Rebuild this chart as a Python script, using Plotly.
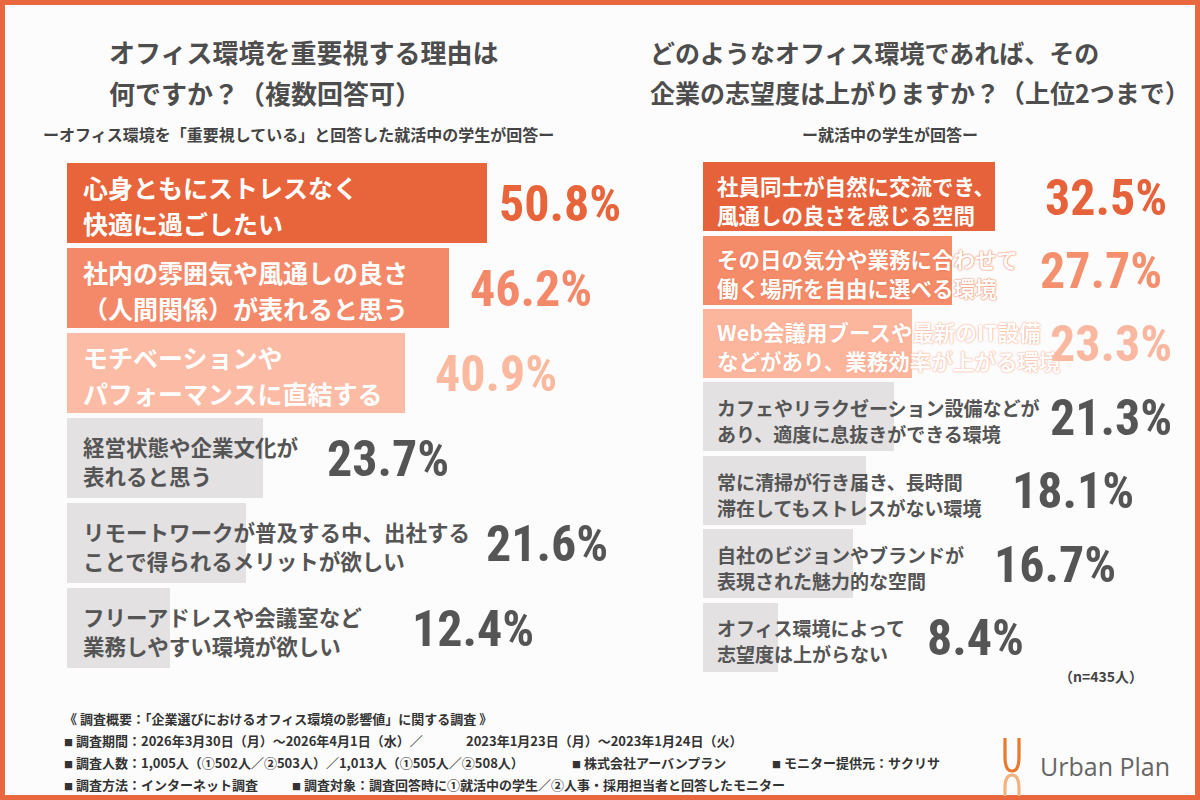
import plotly.graph_objects as go

# ---------------- data ----------------
left_labels = [
    "心身ともにストレスなく\n快適に過ごしたい",
    "社内の雰囲気や風通しの良さ\n（人間関係）が表れると思う",
    "モチベーションや\nパフォーマンスに直結する",
    "経営状態や企業文化が\n表れると思う",
    "リモートワークが普及する中、出社する\nことで得られるメリットが欲しい",
    "フリーアドレスや会議室など\n業務しやすい環境が欲しい",
]
left_values = [50.8, 46.2, 40.9, 23.7, 21.6, 12.4]

right_labels = [
    "社員同士が自然に交流でき、\n風通しの良さを感じる空間",
    "その日の気分や業務に合わせて\n働く場所を自由に選べる環境",
    "Web会議用ブースや最新のIT設備\nなどがあり、業務効率が上がる環境",
    "カフェやリラクゼーション設備などが\nあり、適度に息抜きができる環境",
    "常に清掃が行き届き、長時間\n滞在してもストレスがない環境",
    "自社のビジョンやブランドが\n表現された魅力的な空間",
    "オフィス環境によって\n志望度は上がらない",
]
right_values = [32.5, 27.7, 23.3, 21.3, 18.1, 16.7, 8.4]

left_title = ["オフィス環境を重要視する理由は", "何ですか？（複数回答可）"]
left_sub = "ーオフィス環境を「重要視している」と回答した就活中の学生が回答ー"
right_title = ["どのようなオフィス環境であれば、その", "企業の志望度は上がりますか？（上位2つまで）"]
right_sub = "ー就活中の学生が回答ー"
n_note = "（n=435人）"

SQ = "<span style='font-size:9px'>■</span> "
footer_lines = [
    [(62, "《 調査概要：「企業選びにおけるオフィス環境の影響値」に関する調査 》")],
    [(62, SQ + "調査期間：2026年3月30日（月）～2026年4月1日（水）／"),
     (464, "2023年1月23日（月）～2023年1月24日（火）")],
    [(62, SQ + "調査人数：1,005人（①502人／②503人）／1,013人（①505人／②508人）"),
     (570, SQ + "株式会社アーバンプラン"),
     (770, SQ + "モニター提供元：サクリサ")],
    [(62, SQ + "調査方法：インターネット調査"),
     (290, SQ + "調査対象：調査回答時に①就活中の学生／②人事・採用担当者と回答したモニター")],
]

# ---------------- styles ----------------
W, H = 1200, 800
ORANGE = "#E8673F"
GREY_BAR = "#E3E1E2"
GREY_TXT = "#555555"
JP = "Noto Sans CJK JP"
NUM = "Roboto Condensed, Roboto, sans-serif"
NUM_SIZE = 50

left_bar_colors = ["#E8643A", "#F4896A", "#FCBBA4", GREY_BAR, GREY_BAR, GREY_BAR]
left_val_colors = ["#E8643A", "#F4896A", "#FBB9A0", GREY_TXT, GREY_TXT, GREY_TXT]
right_bar_colors = ["#E5623A", "#F48C69", "#FCB69D", GREY_BAR, GREY_BAR, GREY_BAR, GREY_BAR]
right_val_colors = ["#E5623A", "#F4906E", "#FBB8A0", GREY_TXT, GREY_TXT, GREY_TXT, GREY_TXT]
left_val_shift = [10, 19, 28, 62, 238, 240]
right_val_shift = [48, 86, 136, 154, 144, 139, 147]
right_shadow = [None, "0 0 1.5px #EE7A55, 0 0 1.5px #EE7A55",
                "0 0 1.5px #F7A88C, 0 0 1.5px #F7A88C", None, None, None, None]


def px(x):
    return x / W


def py(y):
    return 1 - y / H


fig = go.Figure()
fig.add_trace(go.Bar(
    x=left_values, y=left_labels, orientation="h",
    marker=dict(color=left_bar_colors, line=dict(width=0)),
    width=0.94, xaxis="x", yaxis="y", hoverinfo="skip", showlegend=False,
))
fig.add_trace(go.Bar(
    x=right_values, y=right_labels, orientation="h",
    marker=dict(color=right_bar_colors, line=dict(width=0)),
    width=0.94, xaxis="x2", yaxis="y2", hoverinfo="skip", showlegend=False,
))

ann = []


def label_ann(lbl, xref, yref, size, color, spacing, offset, xshift, shadow=None):
    lines = lbl.split("\n")
    shifts = [spacing / 2 - offset, -spacing / 2 - offset]
    for ln, ys in zip(lines, shifts):
        f = dict(family=JP, size=size, color=color, weight="bold")
        if shadow:
            f["shadow"] = shadow
        ann.append(dict(x=0, y=lbl, xref=xref, yref=yref, text=ln, showarrow=False,
                        xanchor="left", yanchor="middle", xshift=xshift, yshift=ys,
                        font=f))


for i, (lbl, v) in enumerate(zip(left_labels, left_values)):
    colored = i < 3
    label_ann(lbl, "x", "y", 25 if colored else 21.5,
              "white" if colored else GREY_TXT,
              36 if colored else 29, 2 if colored else 3, 14)
    ann.append(dict(x=v, y=lbl, xref="x", yref="y", text=f"{v:.1f}%", showarrow=False,
                    xanchor="left", yanchor="middle", xshift=left_val_shift[i], yshift=-1,
                    font=dict(family=NUM, size=NUM_SIZE, color=left_val_colors[i],
                              weight="bold")))

for i, (lbl, v) in enumerate(zip(right_labels, right_values)):
    colored = i < 3
    label_ann(lbl, "x2", "y2", 21.5 if colored else 19,
              "white" if colored else GREY_TXT,
              29 if colored else 26, 3 if colored else 4, 12, right_shadow[i])
    ann.append(dict(x=v, y=lbl, xref="x2", yref="y2", text=f"{v:.1f}%", showarrow=False,
                    xanchor="left", yanchor="middle", xshift=right_val_shift[i], yshift=-1,
                    font=dict(family=NUM, size=NUM_SIZE, color=right_val_colors[i],
                              weight="bold")))

# titles
for t, y in zip(left_title, [52, 92]):
    ann.append(dict(x=px(107), y=py(y), xref="paper", yref="paper", text=t,
                    showarrow=False, xanchor="left", yanchor="middle",
                    font=dict(family=JP, size=26, color="#4D4D4D", weight="bold")))
for t, y in zip(right_title, [52, 92]):
    ann.append(dict(x=px(648), y=py(y), xref="paper", yref="paper", text=t,
                    showarrow=False, xanchor="left", yanchor="middle",
                    font=dict(family=JP, size=25, color="#4D4D4D", weight="bold")))
ann.append(dict(x=px(298), y=py(134), xref="paper", yref="paper", text=left_sub,
                showarrow=False, xanchor="center", yanchor="middle",
                font=dict(family=JP, size=16, color="#444444", weight="bold")))
ann.append(dict(x=px(890), y=py(134), xref="paper", yref="paper", text=right_sub,
                showarrow=False, xanchor="center", yanchor="middle",
                font=dict(family=JP, size=16, color="#444444", weight="bold")))
ann.append(dict(x=px(1145), y=py(676), xref="paper", yref="paper", text=n_note,
                showarrow=False, xanchor="right", yanchor="middle",
                font=dict(family=JP, size=14, color="#444444", weight="bold")))

# footer
for row, segs in enumerate(footer_lines):
    for x0, t in segs:
        ann.append(dict(x=px(x0), y=py(718 + 22 * row), xref="paper", yref="paper", text=t,
                        showarrow=False, xanchor="left", yanchor="middle",
                        font=dict(family=JP, size=13, color="#333333", weight="bold")))

# logo text
ann.append(dict(x=px(1038), y=py(766), xref="paper", yref="paper", text="Urban Plan",
                showarrow=False, xanchor="left", yanchor="middle",
                font=dict(family="Open Sans", size=25, color="#666666")))


def path(points):
    s = ""
    for cmd, pts in points:
        s += cmd + " " + " ".join(f"{px(x):.5f},{py(y):.5f}" for x, y in pts) + " "
    return s.strip()


shapes = [
    dict(type="rect", xref="paper", yref="paper",
         x0=px(2.5), x1=px(W - 2.5), y0=py(H - 2.5), y1=py(2.5),
         line=dict(color=ORANGE, width=5), fillcolor="rgba(0,0,0,0)", layer="above"),
    dict(type="path", xref="paper", yref="paper",
         path=path([("M", [(1005, 738)]), ("L", [(1005, 757)]),
                    ("Q", [(1005, 771), (1012, 771)]), ("Q", [(1019, 771), (1019, 757)]),
                    ("L", [(1019, 738)])]),
         line=dict(color="#E8792E", width=3.2)),
    dict(type="path", xref="paper", yref="paper",
         path=path([("M", [(1005, 796)]), ("L", [(1005, 788)]),
                    ("Q", [(1005, 775), (1012, 775)]), ("Q", [(1019, 775), (1019, 788)]),
                    ("L", [(1019, 796)])]),
         line=dict(color="#F3B37F", width=3.2)),
]

lx0, lscale = 67, 8.27
rx0, rscale = 703, 8.98
fig.update_layout(
    width=W, height=H, margin=dict(l=0, r=0, t=0, b=0),
    paper_bgcolor="#FDFCFC", plot_bgcolor="rgba(0,0,0,0)",
    barmode="overlay", bargap=0,
    xaxis=dict(domain=[px(lx0), px(lx0 + 60 * lscale)], range=[0, 60], visible=False,
               fixedrange=True, anchor="y"),
    yaxis=dict(domain=[py(670.6), py(160)], type="category",
               range=[len(left_labels) - 0.5, -0.5], visible=False, fixedrange=True, anchor="x"),
    xaxis2=dict(domain=[px(rx0), px(rx0 + 50 * rscale)], range=[0, 50], visible=False,
                fixedrange=True, anchor="y2"),
    yaxis2=dict(domain=[py(673.7), py(159.8)], type="category",
                range=[len(right_labels) - 0.5, -0.5], visible=False, fixedrange=True,
                anchor="x2"),
    annotations=ann, shapes=shapes,
)

fig.write_html("out.html", config=dict(displayModeBar=False))
